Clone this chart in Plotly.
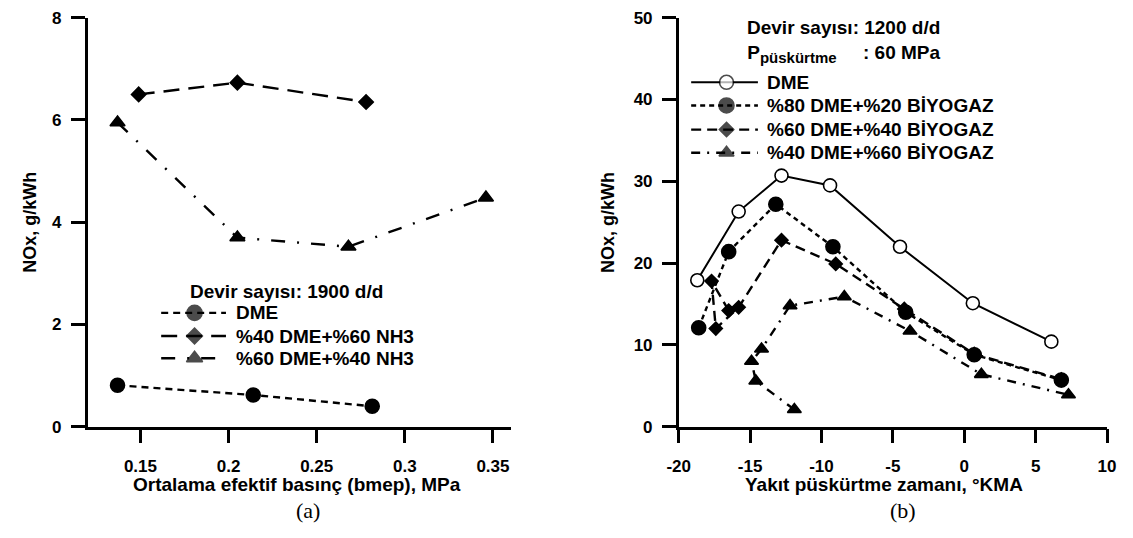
import plotly.graph_objects as go

W, H = 1133, 538

# ---- (a) NOx vs. mean effective pressure, 1900 d/d ----
bmep_dme = [0.137, 0.214, 0.2815]
nox_dme_a = [0.81, 0.62, 0.40]
bmep_dme40_nh3 = [0.149, 0.205, 0.278]
nox_dme40_nh3 = [6.50, 6.73, 6.35]
bmep_dme60_nh3 = [0.137, 0.205, 0.268, 0.346]
nox_dme60_nh3 = [5.95, 3.70, 3.52, 4.48]

# ---- (b) NOx vs. injection timing, 1200 d/d, 60 MPa ----
inj_dme = [-18.7, -15.8, -12.8, -9.4, -4.5, 0.6, 6.1]
nox_dme_b = [17.9, 26.3, 30.7, 29.5, 22.0, 15.1, 10.4]
inj_bg20 = [-18.6, -16.5, -13.2, -9.2, -4.1, 0.7, 6.8]
nox_bg20 = [12.1, 21.4, 27.2, 22.0, 14.0, 8.8, 5.7]
inj_bg40 = [-16.5, -17.7, -17.4, -15.8, -12.8, -9.0, -4.2, 0.7, 6.8]
nox_bg40 = [14.2, 17.8, 12.0, 14.6, 22.8, 19.9, 14.4, 8.9, 5.8]
inj_bg60 = [-11.9, -14.6, -14.9, -14.2, -12.2, -8.4, -3.8, 1.2, 7.3]
nox_bg60 = [2.1, 5.6, 8.0, 9.5, 14.8, 15.9, 11.7, 6.4, 3.9]

ticks_a_x = [0.15, 0.2, 0.25, 0.3, 0.35]
ticks_a_y = [0, 2, 4, 6, 8]
ticks_b_x = [-20, -15, -10, -5, 0, 5, 10]
ticks_b_y = [0, 10, 20, 30, 40, 50]

labels_a = ["DME", "%40 DME+%60 NH3", "%60 DME+%40 NH3"]
labels_b = ["DME", "%80 DME+%20 BİYOGAZ", "%60 DME+%40 BİYOGAZ", "%40 DME+%60 BİYOGAZ"]

FONT = "Liberation Sans, Arial, sans-serif"
SERIF = "Liberation Serif, Times New Roman, serif"
BLACK = "#000000"
NB = "\u00a0"

# line / marker styles per series
sty_a = [
    dict(dash="7px,5px", symbol="circle", size=14, fill=BLACK),
    dict(dash="16px,9px", symbol="diamond", size=11, fill=BLACK),
    dict(dash="14px,12px,2px,12px", symbol="triangle-up", size=13, fill=BLACK),
]
sty_b = [
    dict(dash="solid", symbol="circle", size=13, fill="white", width=2.0),
    dict(dash="5px,4px", symbol="circle", size=14, fill=BLACK),
    dict(dash="10px,6px", symbol="diamond", size=10, fill=BLACK),
    dict(dash="9px,7px,2px,7px", symbol="triangle-up", size=12, fill=BLACK),
]


def series(x, y, st, xa, ya, lw=2.4):
    return go.Scatter(
        x=x, y=y, xaxis=xa, yaxis=ya, mode="lines+markers", showlegend=False,
        line=dict(color=BLACK, width=st.get("width", lw), dash=st["dash"]),
        marker=dict(symbol=st["symbol"], size=st["size"], color=st["fill"],
                    line=dict(color=BLACK, width=1.6)),
        hoverinfo="skip",
    )


fig = go.Figure()

# panel (a)
fig.add_trace(series(bmep_dme60_nh3, nox_dme60_nh3, sty_a[2], "x", "y"))
fig.add_trace(series(bmep_dme40_nh3, nox_dme40_nh3, sty_a[1], "x", "y"))
fig.add_trace(series(bmep_dme, nox_dme_a, sty_a[0], "x", "y"))

# panel (b)
fig.add_trace(series(inj_bg60, nox_bg60, sty_b[3], "x2", "y2"))
fig.add_trace(series(inj_bg40, nox_bg40, sty_b[2], "x2", "y2"))
fig.add_trace(series(inj_bg20, nox_bg20, sty_b[1], "x2", "y2"))
fig.add_trace(series(inj_dme, nox_dme_b, sty_b[0], "x2", "y2"))


def text(x, y, s, size, anchor="left", angle=0, family=FONT, bold=True):
    fig.add_annotation(x=x / W, y=1 - y / H, xref="paper", yref="paper", text=s,
                       showarrow=False, xanchor=anchor, yanchor="middle", textangle=angle,
                       borderpad=0,
                       font=dict(family=family, size=size, color=BLACK,
                                 weight="bold" if bold else "normal"))


# ---- hand-drawn legends on a pixel-space overlay ----
def legend_block(styles, labels, x0, x1, xm, xt, rows, font_size):
    for st, lab, ry in zip(styles, labels, rows):
        fig.add_trace(go.Scatter(
            x=[x0, xm, x1], y=[ry, ry, ry], xaxis="x3", yaxis="y3",
            mode="lines+markers", showlegend=False, hoverinfo="skip",
            line=dict(color=BLACK, width=st.get("width", 2.4), dash=st["dash"]),
            marker=dict(symbol=st["symbol"], size=[0, st["size"] + 1, 0],
                        color=st["fill"], line=dict(color=BLACK, width=[0, 1.6, 0])),
        ))
        text(xt, ry, lab, font_size)


LEG_FS = 19
legend_block(sty_a, labels_a, 152, 218, 186, 227, [315, 339, 362], LEG_FS)
legend_block(sty_b, labels_b, 692, 760, 728, 768, [76, 100, 125, 149], LEG_FS)

text(180, 293, "Devir sayısı: 1900 d/d", LEG_FS)
text(748, 34,
     "Devir sayısı: 1200 d/d<br>P<sub><span style='font-size:15px'>püskürtme</span></sub>"
     + NB * 5 + ": 60 MPa", LEG_FS)

# axis titles
text(290, 493, "Ortalama efektif basınç (bmep), MPa", 19, anchor="center")
text(888, 493, "Yakıt püskürtme zamanı, °KMA", 19, anchor="center")
text(19, 221, "NOx, g/kWh", 18, anchor="center", angle=-90)
text(607, 221, "NOx, g/kWh", 18, anchor="center", angle=-90)
text(302, 520, "(a)", 22, anchor="center", family=SERIF, bold=False)
text(908, 520, "(b)", 22, anchor="center", family=SERIF, bold=False)

ydom = [1 - 433 / H, 1 - 9 / H]
axis_common = dict(showline=True, linecolor=BLACK, linewidth=2.5, ticks="outside",
                   ticklen=14, tickwidth=2.5, tickcolor=BLACK, showgrid=False,
                   zeroline=False, mirror=False, fixedrange=True,
                   ticklabeloverflow="allow",
                   tickfont=dict(family=FONT, size=17, color=BLACK, weight="bold"))

fig.update_layout(
    width=W, height=H, margin=dict(l=0, r=0, t=0, b=0),
    paper_bgcolor="white", plot_bgcolor="rgba(0,0,0,0)",
    xaxis=dict(domain=[77 / W, 508 / W], range=[0.12, 0.36], anchor="y",
               ticklabelstandoff=8,
               tickvals=ticks_a_x, ticktext=[f"{v:g}" for v in ticks_a_x], **axis_common),
    yaxis=dict(domain=ydom, range=[0, 8.0005], anchor="x", ticklabelstandoff=6,
               tickvals=ticks_a_y, ticktext=[str(v) for v in ticks_a_y], **axis_common),
    xaxis2=dict(domain=[679.3 / W, 1115.7 / W], range=[-20, 10], anchor="y2",
                ticklabelstandoff=8,
                tickvals=ticks_b_x, ticktext=[str(v) for v in ticks_b_x], **axis_common),
    yaxis2=dict(domain=ydom, range=[0, 50.003], anchor="x2", ticklabelstandoff=6,
                tickvals=ticks_b_y, ticktext=[str(v) for v in ticks_b_y], **axis_common),
    xaxis3=dict(domain=[0, 1], range=[0, W], visible=False, fixedrange=True, anchor="y3"),
    yaxis3=dict(domain=[0, 1], range=[H, 0], visible=False, fixedrange=True, anchor="x3"),
)

fig.write_html("out.html")
